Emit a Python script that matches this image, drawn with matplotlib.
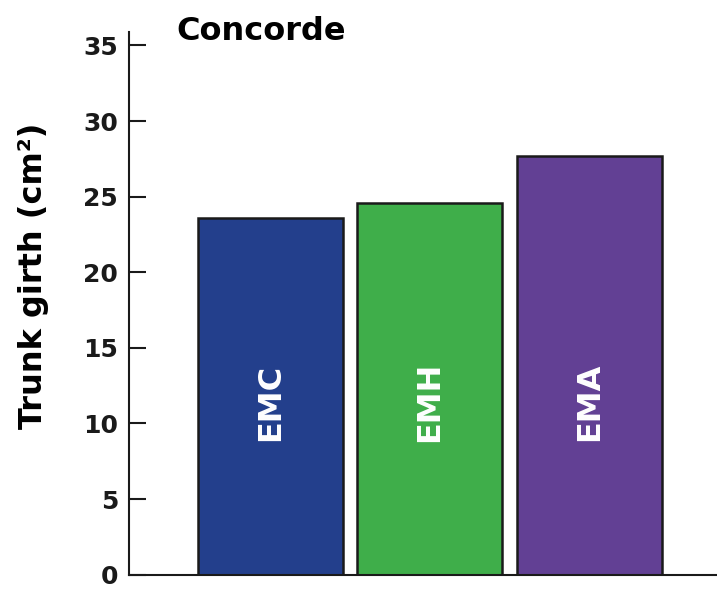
import matplotlib.pyplot as plt

plt.rcParams['font.family'] = ['DejaVu Sans']

rootstocks = ["EMC", "EMH", "EMA"]
girth = [23.6, 24.6, 27.7]
colors = ["#233f8c", "#3fae4a", "#624094"]
y_ticks = [0, 5, 10, 15, 20, 25, 30, 35]
y_tick_labels = ["0", "5", "10", "15", "20", "25", "30", "35"]

fig = plt.figure(figsize=(7.17, 5.90), dpi=100)
ax = fig.add_axes([0.180, 0.026, 0.82, 0.920])

x = range(len(rootstocks))
bars = ax.bar(x, girth, width=0.91, color=colors, edgecolor="#1a1a1a", linewidth=1.8)

# rotated labels inside the bars
for xi, name in zip(x, rootstocks):
    ax.text(xi, 11.4, name, rotation=90, color="white", fontsize=23,
            fontweight="bold", ha="center", va="center")

ax.set_xlim(-0.884, 2.80)
ax.set_ylim(0, 35.9)
ax.set_yticks(y_ticks)
ax.set_yticklabels(y_tick_labels, fontsize=18, fontweight="bold")
ax.set_xticks([])
ax.tick_params(axis="y", direction="in", length=12, width=1.5, pad=8, colors="#1a1a1a")

for side in ["top", "right"]:
    ax.spines[side].set_visible(False)
ax.spines["left"].set_linewidth(1.5)
ax.spines["bottom"].set_linewidth(1.5)
ax.spines["left"].set_color("#1a1a1a")
ax.spines["bottom"].set_color("#1a1a1a")

ax.set_ylabel("Trunk girth (cm²)", fontsize=23, fontweight="bold")
ax.yaxis.set_label_coords(-0.136, 0.55)
ax.text(0.08, 1.0, "Concorde", transform=ax.transAxes, fontsize=23,
        fontweight="bold", ha="left", va="center")

fig.savefig("out.png", dpi=100)
